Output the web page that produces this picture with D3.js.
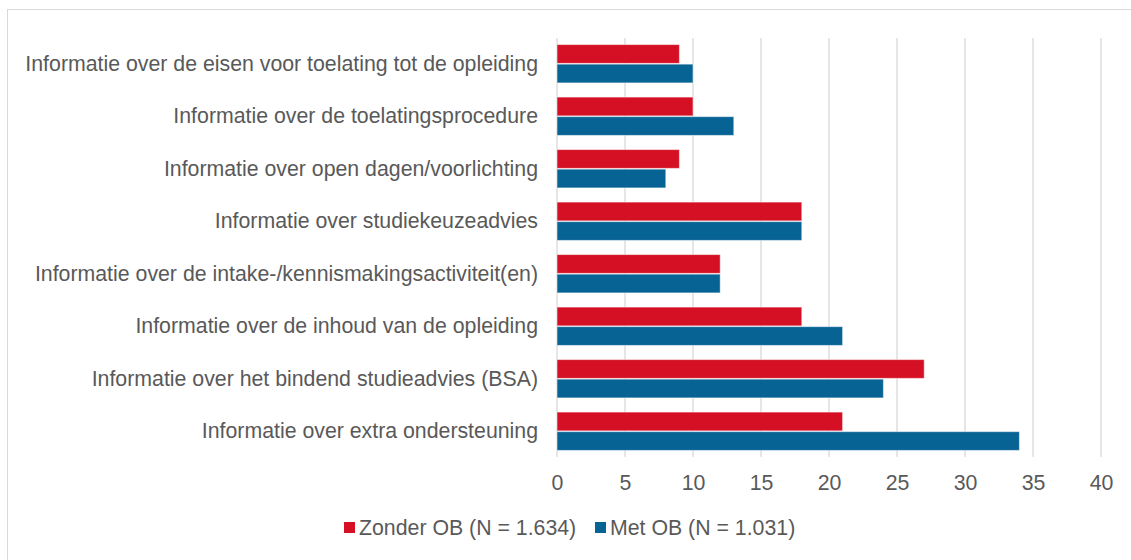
<!DOCTYPE html>
<html><head><meta charset="utf-8">
<script src="https://cdn.jsdelivr.net/npm/d3@7"></script>
<style>body{margin:0;background:#fff;} text{font-family:"Liberation Sans",Arial,sans-serif;}</style>
</head><body>
<svg id="c" width="1131" height="560"></svg>
<script>
const categories = [
  "Informatie over de eisen voor toelating tot de opleiding",
  "Informatie over de toelatingsprocedure",
  "Informatie over open dagen/voorlichting",
  "Informatie over studiekeuzeadvies",
  "Informatie over de intake-/kennismakingsactiviteit(en)",
  "Informatie over de inhoud van de opleiding",
  "Informatie over het bindend studieadvies (BSA)",
  "Informatie over extra ondersteuning"
];
const zonderOB = [9, 10, 9, 18, 12, 18, 27, 21];
const metOB = [10, 13, 8, 18, 12, 21, 24, 34];
const seriesNames = ["Zonder OB (N = 1.634)", "Met OB (N = 1.031)"];
const tickValues = [0, 5, 10, 15, 20, 25, 30, 35, 40];
const colors = ["#D51024", "#086395"];
const FS = 21.3;

const svg = d3.select("#c");
svg.append("rect").attr("x", 7.5).attr("y", 9.5).attr("width", 1200).attr("height", 600)
  .attr("fill", "#fff").attr("stroke", "#d9d9d9");

const x = d3.scaleLinear().domain([0, 40]).range([557, 1101]);
const y = d3.scaleBand().domain(categories).range([37.5, 457.5]).paddingInner(0.27).paddingOuter(0.135);
const sub = d3.scaleBand().domain([0, 1]).range([0, y.bandwidth()]).paddingInner(0.04);

const g = svg.append("g");
g.selectAll("line.grid").data(tickValues).join("line")
  .attr("x1", d => x(d)).attr("x2", d => x(d)).attr("y1", 38).attr("y2", 457)
  .attr("stroke", "#d9d9d9").attr("stroke-width", 1.3);

const series = [zonderOB, metOB];
series.forEach((vals, si) => {
  g.selectAll("rect.s" + si).data(vals).join("rect")
    .attr("x", x(0)).attr("y", (d, i) => y(categories[i]) + sub(si))
    .attr("width", d => x(d) - x(0)).attr("height", sub.bandwidth())
    .attr("fill", colors[si]).attr("stroke", "#ffffff").attr("stroke-opacity", 0.5).attr("stroke-width", 1);
});

const xAxis = d3.axisBottom(x).tickValues(tickValues).tickSize(0).tickPadding(0);
const ax = svg.append("g").attr("transform", "translate(0,476)").call(xAxis);
ax.select(".domain").remove();
ax.selectAll("text").attr("font-size", FS).attr("fill", "#595959").attr("dy", "0.35em").attr("y", 7);

const yAxis = d3.axisLeft(y).tickSize(0).tickPadding(0);
const ay = svg.append("g").attr("transform", "translate(538,0)").call(yAxis);
ay.select(".domain").remove();
ay.selectAll("text").attr("font-size", FS).attr("fill", "#595959");

const legend = svg.append("g");
const legX = [344, 595];
seriesNames.forEach((n, i) => {
  legend.append("rect").attr("x", legX[i]).attr("y", 522).attr("width", 11).attr("height", 11).attr("fill", colors[i]);
  legend.append("text").attr("x", legX[i] + 15).attr("y", 528).attr("dy", "0.35em")
    .attr("font-size", FS).attr("fill", "#595959").text(n);
});
</script>
</body></html>
